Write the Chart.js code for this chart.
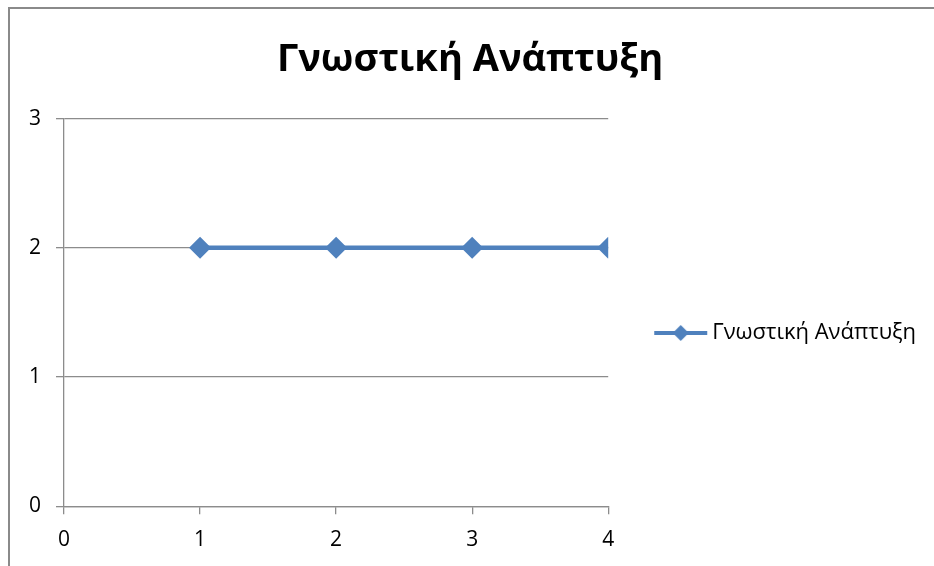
<!DOCTYPE html>
<html>
<head>
<meta charset="utf-8">
<script src="https://cdn.jsdelivr.net/npm/chart.js@4/dist/chart.umd.min.js"></script>
<style>
  html, body { margin: 0; padding: 0; background: #fff; }
  #wrap { position: relative; width: 934px; height: 566px; overflow: hidden; }
  #frame {
    position: absolute; left: 8px; top: 7px; width: 1000px; height: 700px;
    border-left: 2px solid #8a8a8a; border-top: 2px solid #8a8a8a;
    pointer-events: none; box-sizing: border-box;
  }
  canvas { position: absolute; left: 0; top: 0; }
</style>
</head>
<body>
<div id="wrap">
  <canvas id="chart" width="934" height="566"></canvas>
  <div id="frame"></div>
</div>
<script>
// Chart text
const chartTitle = 'Γνωστική Ανάπτυξη';
const seriesName = 'Γνωστική Ανάπτυξη';

// Series values
const xValues = [1, 2, 3, 4];
const yValues = [2, 2, 2, 2];

// Axis ranges / tick labels
const xTicks = [0, 1, 2, 3, 4];
const yTicks = [0, 1, 2, 3];

const FONT = '"Open Sans", "Noto Sans", "DejaVu Sans", sans-serif';
const LINE_COLOR = '#4F81BD';
const GRID_COLOR = '#8c8c8c';

// Legend symbol: a short line with a diamond on it.
// The image is wider than the reserved box so the line runs close to the label.
const SYMBOL_BOX = 81;
const SYMBOL_IMG = 95;
function legendSymbol() {
  const c = document.createElement('canvas');
  c.width = SYMBOL_IMG; c.height = 20;
  const g = c.getContext('2d');
  const x0 = SYMBOL_IMG - 54, x1 = SYMBOL_IMG - 1, xm = (x0 + x1) / 2;
  g.strokeStyle = LINE_COLOR;
  g.lineWidth = 4;
  g.beginPath(); g.moveTo(x0, 10); g.lineTo(x1, 10); g.stroke();
  g.fillStyle = LINE_COLOR;
  g.beginPath();
  g.moveTo(xm, 2); g.lineTo(xm + 8, 10); g.lineTo(xm, 18); g.lineTo(xm - 8, 10);
  g.closePath(); g.fill();
  return c;
}

const points = xValues.map((x, i) => ({ x: x, y: yValues[i] }));

new Chart(document.getElementById('chart'), {
  type: 'line',
  data: {
    datasets: [{
      label: seriesName,
      data: points,
      borderColor: LINE_COLOR,
      backgroundColor: LINE_COLOR,
      borderWidth: 4.5,
      pointStyle: 'rectRot',
      pointRadius: 11,
      pointHoverRadius: 11,
      pointBackgroundColor: LINE_COLOR,
      pointBorderColor: LINE_COLOR,
      pointBorderWidth: 0,
      tension: 0
    }]
  },
  options: {
    responsive: false,
    animation: false,
    events: [],
    layout: { padding: { left: 14, right: 8, top: 10, bottom: 0 } },
    plugins: {
      title: {
        display: true,
        text: chartTitle,
        color: '#000',
        font: { family: FONT, size: 38, weight: 'bold' },
        padding: { top: 27, bottom: 36 }
      },
      legend: {
        display: true,
        position: 'right',
        maxWidth: 400,
        title: { display: true, text: '', padding: 33, font: { family: FONT, size: 20 } },
        labels: {
          usePointStyle: true,
          pointStyle: legendSymbol(),
          pointStyleWidth: SYMBOL_BOX,
          color: '#000',
          font: { family: FONT, size: 22 },
          padding: 12
        }
      },
      tooltip: { enabled: false }
    },
    scales: {
      x: {
        type: 'linear',
        min: xTicks[0],
        max: xTicks[xTicks.length - 1],
        afterBuildTicks: (axis) => { axis.ticks = xTicks.map(v => ({ value: v })); },
        grid: {
          drawOnChartArea: false,
          drawTicks: true,
          tickLength: 8,
          color: GRID_COLOR,
          lineWidth: 1.3
        },
        border: { display: true, color: GRID_COLOR, width: 1.3 },
        ticks: {
          color: '#000',
          font: { family: FONT, size: 21, lineHeight: 0.85 },
          padding: 17,
          maxRotation: 0
        }
      },
      y: {
        type: 'linear',
        min: yTicks[0],
        max: yTicks[yTicks.length - 1],
        afterBuildTicks: (axis) => { axis.ticks = yTicks.map(v => ({ value: v })); },
        grid: {
          drawOnChartArea: true,
          drawTicks: true,
          tickLength: 8,
          color: GRID_COLOR,
          lineWidth: 1.3
        },
        border: { display: true, color: GRID_COLOR, width: 1.3 },
        ticks: {
          color: '#000',
          font: { family: FONT, size: 21 },
          padding: 15
        }
      }
    }
  }
});
</script>
</body>
</html>
